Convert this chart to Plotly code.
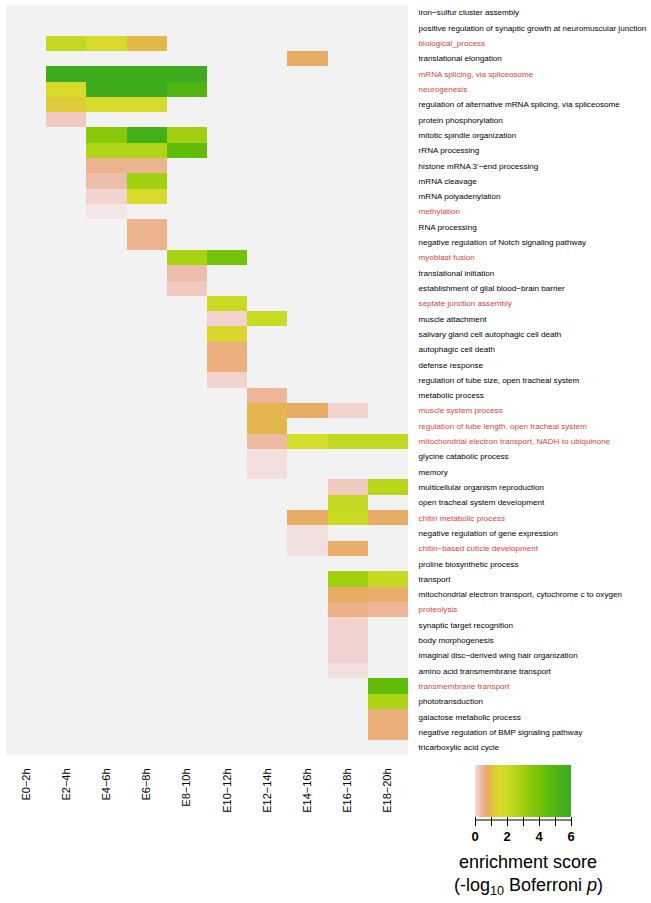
import plotly.graph_objects as go

_ = None

stages = ["E0\u22122h", "E2\u22124h", "E4\u22126h", "E6\u22128h", "E8\u221210h",
          "E10\u221212h", "E12\u221214h", "E14\u221216h", "E16\u221218h", "E18\u221220h"]

terms = [
    "iron\u2212sulfur cluster assembly",
    "positive regulation of synaptic growth at neuromuscular junction",
    "biological_process",
    "translational elongation",
    "mRNA splicing, via spliceosome",
    "neurogenesis",
    "regulation of alternative mRNA splicing, via spliceosome",
    "protein phosphorylation",
    "mitotic spindle organization",
    "rRNA processing",
    "histone mRNA 3'\u2212end processing",
    "mRNA cleavage",
    "mRNA polyadenylation",
    "methylation",
    "RNA processing",
    "negative regulation of Notch signaling pathway",
    "myoblast fusion",
    "translational initiation",
    "establishment of glial blood\u2212brain barrier",
    "septate junction assembly",
    "muscle attachment",
    "salivary gland cell autophagic cell death",
    "autophagic cell death",
    "defense response",
    "regulation of tube size, open tracheal system",
    "metabolic process",
    "muscle system process",
    "regulation of tube length, open tracheal system",
    "mitochondrial electron transport, NADH to ubiquinone",
    "glycine catabolic process",
    "memory",
    "multicellular organism reproduction",
    "open tracheal system development",
    "chitin metabolic process",
    "negative regulation of gene expression",
    "chitin\u2212based cuticle development",
    "proline biosynthetic process",
    "transport",
    "mitochondrial electron transport, cytochrome c to oxygen",
    "proteolysis",
    "synaptic target recognition",
    "body morphogenesis",
    "imaginal disc\u2212derived wing hair organization",
    "amino acid transmembrane transport",
    "transmembrane transport",
    "phototransduction",
    "galactose metabolic process",
    "negative regulation of BMP signaling pathway",
    "tricarboxylic acid cycle",
]

highlighted = {
    "biological_process", "mRNA splicing, via spliceosome", "neurogenesis",
    "methylation", "myoblast fusion", "septate junction assembly",
    "muscle system process", "regulation of tube length, open tracheal system",
    "mitochondrial electron transport, NADH to ubiquinone",
    "chitin metabolic process", "chitin\u2212based cuticle development",
    "proteolysis", "transmembrane transport",
}

# enrichment scores per stage, one entry per term (None = not enriched)
e0_2h = [_] * 49
e2_4h = [_, _, 2.2, _, 5.8, 1.6, 1.2, 0.2] + [_] * 41
e4_6h = [_, _, 1.6, _, 5.8, 5.8, 1.6, _, 3.5, 2.6, 0.5, 0.35, 0.1, 0.0] + [_] * 35
e6_8h = [_, _, 1.0, _, 5.8, 5.8, 1.6, _, 5.5, 2.6, 0.5, 3.0, 1.6, _, 0.5, 0.5] + [_] * 33
e8_10h = [_, _, _, _, 5.8, 5.0, _, _, 3.0, 4.5, _, _, _, _, _, _, 2.8, 0.35, 0.2] + [_] * 30
e10_12h = [_] * 16 + [4.0, _, _, 2.0, 0.1, 1.4, 0.6, 0.6, 0.1] + [_] * 24
e12_14h = [_] * 20 + [2.0, _, _, _, _, 0.45, 0.95, 0.95, 0.4, 0.03, 0.03] + [_] * 18
e14_16h = [_, _, _, 0.8] + [_] * 22 + [0.8, _, 1.7, _, _, _, _, 0.8, 0.03, 0.03] + [_] * 13
e16_18h = [_] * 26 + [0.1, _, 2.2, _, _, 0.2, 2.2, 2.0, _, 0.75, _, 3.0, 0.8, 0.55,
                      0.1, 0.1, 0.1, 0.03] + [_] * 5
e18_20h = [_] * 28 + [2.2, _, _, 2.4, _, 0.8, _, _, _, 2.1, 0.75, 0.45,
                      _, _, _, _, 4.5, 2.7, 0.65, 0.65, _]

columns = [e0_2h, e2_4h, e4_6h, e6_8h, e8_10h, e10_12h, e12_14h, e14_16h, e16_18h, e18_20h]
z = [[col[i] for col in columns] for i in range(len(terms))]

ticktext = [
    f"<span style='color:#e0413c'>{t}</span>" if t in highlighted else t
    for t in terms
]

colorscale = [
    [0.0, "#f2e6e6"],
    [0.015, "#f2d4d2"],
    [0.06, "#eebca8"],
    [0.09, "#ecb088"],
    [0.13, "#e8ac68"],
    [0.165, "#e2b848"],
    [0.22, "#dcd430"],
    [0.28, "#d4dc28"],
    [0.37, "#c2d820"],
    [0.5, "#a0d010"],
    [0.6, "#84c808"],
    [0.75, "#60bc08"],
    [0.85, "#4cb414"],
    [1.0, "#3aaa20"],
]

W, H = 651, 903
L, R, T, B = 6, 243, 5, 148
pw, ph = W - L - R, H - T - B

def px_x(x):
    return (x - L) / pw

def px_y(y):
    return (H - B - y) / ph

fig = go.Figure(go.Heatmap(
    z=z, x=stages, y=terms,
    colorscale=colorscale, zmin=0, zmax=6,
    hoverongaps=False,
    colorbar=dict(
        orientation="h",
        x=px_x(523), xanchor="center",
        y=px_y(765), yanchor="top",
        lenmode="pixels", len=96,
        thickness=52,
        xpad=0, ypad=0,
        outlinewidth=0,
        ticks="outside", ticklen=9, tickwidth=1, tickcolor="#000",
        tickvals=[0, 1, 2, 3, 4, 5, 6],
        ticktext=["0", "", "2", "", "4", "", "6"],
        tickfont=dict(family="Liberation Sans", size=13, color="#000", weight="bold"),
    ),
))

fig.update_layout(
    width=W, height=H,
    margin=dict(l=L, r=R, t=T, b=B, autoexpand=False),
    paper_bgcolor="white",
    plot_bgcolor="#f2f2f2",
    font=dict(family="Liberation Sans", color="#000"),
    xaxis=dict(
        tickangle=-90, tickfont=dict(size=11), showgrid=False, zeroline=False,
        ticks="outside", ticklen=8, tickcolor="rgba(0,0,0,0)", showline=False,
        automargin=False,
    ),
    yaxis=dict(
        side="right", autorange="reversed", showgrid=False, zeroline=False,
        tickvals=terms, ticktext=ticktext, tickfont=dict(size=8.1),
        ticks="outside", ticklen=8, tickcolor="rgba(0,0,0,0)", showline=False,
        automargin=False,
    ),
    shapes=[dict(
        type="line", xref="paper", yref="paper",
        x0=px_x(475), x1=px_x(571), y0=px_y(820), y1=px_y(820),
        line=dict(color="#000", width=1),
    )],
    annotations=[
        dict(text="enrichment score", xref="paper", yref="paper",
             x=px_x(528), y=px_y(862), xanchor="center", yanchor="middle",
             showarrow=False, font=dict(size=18, color="#000")),
        dict(text="(-log<sub>10</sub> Boferroni <i>p</i>)", xref="paper", yref="paper",
             x=px_x(528), y=px_y(886), xanchor="center", yanchor="middle",
             showarrow=False, font=dict(size=18, color="#000")),
    ],
)

fig.write_html(
    "out.html",
    config={"displayModeBar": False},
    post_script="document.body.style.margin='0';document.body.style.padding='0';",
)
